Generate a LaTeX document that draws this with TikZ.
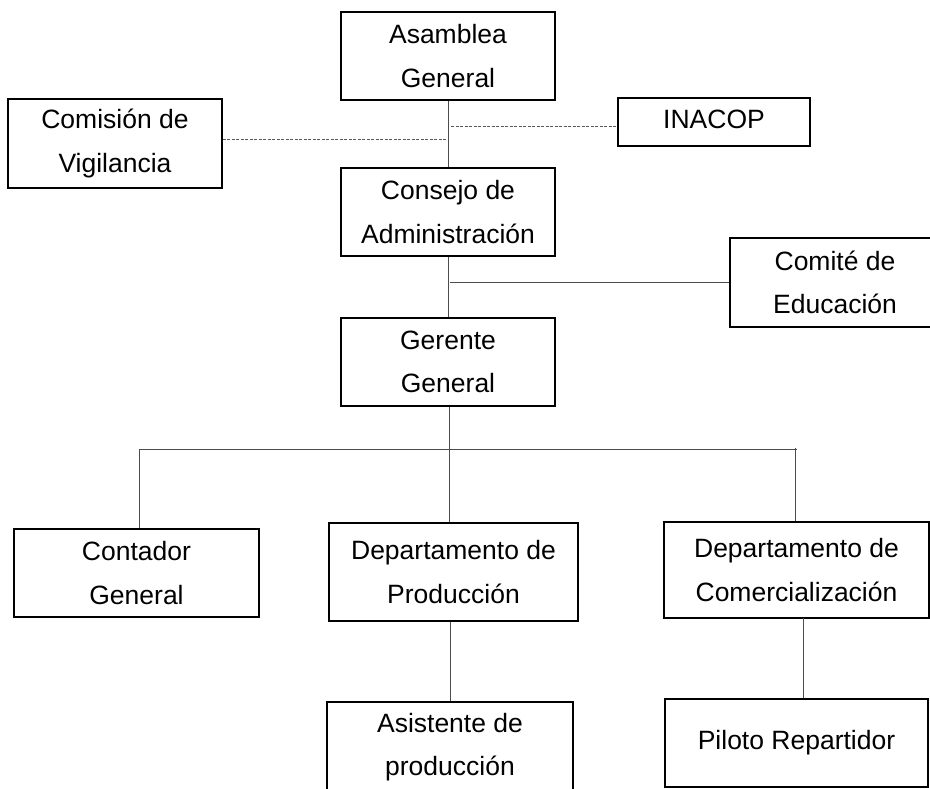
\documentclass[tikz,border=0pt]{standalone}
\usepackage{fontspec}
\setmainfont{Liberation Sans}
\begin{document}
\begin{tikzpicture}[x=1pt,y=-1pt,
  box/.style={draw=black, line width=1.5pt, rectangle, align=center, inner sep=0pt,
    font=\fontsize{26.5}{43.5}\selectfont},
  link/.style={draw=black!70, line width=1pt},
  dashlink/.style={draw=black!65, line width=0.8pt, dash pattern=on 3pt off 1.5pt}]
\clip (0,0) rectangle (930,788);
\fill[white] (0,0) rectangle (930,788);

% boxes
\node[box, minimum width=214pt, minimum height=88pt] (asamblea) at (448,56) {Asamblea\\General};
\node[box, minimum width=214pt, minimum height=89pt] (comision) at (115,143.5) {Comisión de\\Vigilancia};
\node[box, minimum width=192pt, minimum height=48pt] (inacop) at (714,122) {\raisebox{6pt}{INACOP}};
\node[box, minimum width=214pt, minimum height=88pt] (consejo) at (448,212) {Consejo de\\Administración};
\node[box, minimum width=210pt, minimum height=89pt] (comite) at (835,282.5) {Comité de\\Educación};
\node[box, minimum width=214pt, minimum height=88pt] (gerente) at (448,362) {Gerente\\General};
\node[box, minimum width=245pt, minimum height=88pt] (contador) at (136.5,573) {Contador\\General};
\node[box, minimum width=249pt, minimum height=98pt] (produccion) at (453.5,572) {Departamento de\\Producción};
\node[box, minimum width=265pt, minimum height=96pt] (comercial) at (796.5,570) {Departamento de\\Comercialización};
\node[box, minimum width=246pt, minimum height=90pt] (asistente) at (450,747) {Asistente de\\producción};
\node[box, minimum width=263pt, minimum height=88pt] (piloto) at (796.5,743) {Piloto Repartidor};

% junction points
\coordinate (vigJ) at (446,139);
\coordinate (inaJ) at (451,126);
\coordinate (comJ) at (450,282);
\coordinate (busL) at (139,449);
\coordinate (busC) at (449,449);
\coordinate (busR) at (797,449);
\coordinate (pilJ) at (803,618);

% main line of authority
\draw[link] (asamblea.south) -- (consejo.north);
\draw[link] (consejo.south) -- (gerente.north);
\draw[link] (comJ) -- (comJ -| comite.west);

% advisory links
\draw[dashlink] (vigJ -| comision.east) -- (vigJ);
\draw[dashlink] (inaJ) -- (inaJ -| inacop.west);

% departments
\draw[link] (gerente.south -| busC) -- (busC |- produccion.north);
\draw[link] (busL) -- (busR);
\draw[link] (busL) -- (busL |- contador.north);
\draw[link] (795,448) -- (795,0 |- comercial.north);
\draw[link] (produccion.south -| asistente.north) -- (asistente.north);
\draw[link] (pilJ) -- (pilJ |- piloto.north);
\end{tikzpicture}
\end{document}
